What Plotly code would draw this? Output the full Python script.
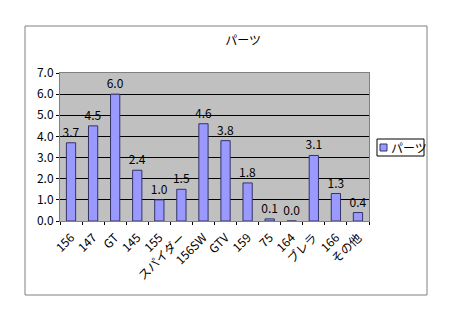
import plotly.graph_objects as go

categories = ["156", "147", "GT", "145", "155", "スパイダー", "156SW", "GTV", "159", "75", "164", "ブレラ", "166", "その他"]
values = [3.7, 4.5, 6.0, 2.4, 1.0, 1.5, 4.6, 3.8, 1.8, 0.1, 0.0, 3.1, 1.3, 0.4]
series_name = "パーツ"
y_ticks = [0, 1, 2, 3, 4, 5, 6, 7]
y_tick_labels = [f"{v:.1f}" for v in y_ticks]

W, H = 450, 317
L, R, T, B = 60, 369, 73, 221
pw, ph = R - L, B - T

FONT = "Noto Sans CJK JP, sans-serif"
BAR_COLOR = "#9999FF"
BAR_LINE = "#333366"

fig = go.Figure()
fig.add_trace(go.Bar(
    x=categories, y=values, name=series_name,
    marker=dict(color=BAR_COLOR, line=dict(color=BAR_LINE, width=1)),
    text=[f"{v:.1f}" for v in values], textposition="outside",
    constraintext="none",
    textfont=dict(size=12, color="black", family=FONT),
    cliponaxis=False, showlegend=False,
))

def px_x(x):
    return (x - L) / pw

def px_y(y):
    return (B - y) / ph

# outer chart border
fig.add_shape(type="rect", xref="paper", yref="paper",
              x0=px_x(25), x1=px_x(427), y0=px_y(295), y1=px_y(26),
              line=dict(color="#808080", width=1), layer="below")
# legend box
fig.add_shape(type="rect", xref="paper", yref="paper",
              x0=px_x(377), x1=px_x(424), y0=px_y(156), y1=px_y(139),
              line=dict(color="#000000", width=1), fillcolor="white")
fig.add_shape(type="rect", xref="paper", yref="paper",
              x0=px_x(380), x1=px_x(387), y0=px_y(151), y1=px_y(144),
              line=dict(color=BAR_LINE, width=1), fillcolor=BAR_COLOR)
fig.add_annotation(xref="paper", yref="paper", x=px_x(389), y=px_y(147.5),
                   xanchor="left", yanchor="middle", text=series_name,
                   showarrow=False, font=dict(size=12, family=FONT))

fig.update_layout(
    width=W, height=H,
    margin=dict(l=L, r=W - R, t=T, b=H - B),
    paper_bgcolor="white", plot_bgcolor="#C0C0C0",
    font=dict(family=FONT, size=12, color="black"),
    title=dict(text=series_name, x=px_x(227), xanchor="center",
               y=1 - 41 / H, yanchor="middle", font=dict(size=12)),
    bargap=0.58,
    showlegend=False,
    xaxis=dict(tickangle=-45, showline=True, linecolor="#808080", mirror=True,
               ticks="outside", ticklen=3, tickcolor="black", tickson="boundaries",
               ticklabelstandoff=4, tickfont=dict(size=12)),
    yaxis=dict(range=[0, 7], tickvals=y_ticks, ticktext=y_tick_labels,
               showgrid=True, gridcolor="black", gridwidth=1,
               showline=True, linecolor="#808080", mirror=True,
               ticks="outside", ticklen=3, tickcolor="black",
               tickfont=dict(size=12), zeroline=False),
)

fig.write_html("out.html")
